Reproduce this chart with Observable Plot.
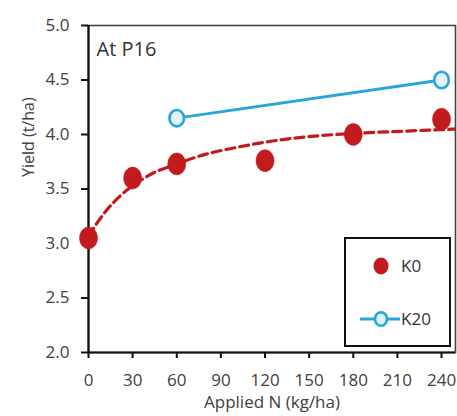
<!DOCTYPE html>
<html>
<head>
<meta charset="utf-8">
<script src="https://cdn.jsdelivr.net/npm/d3@7"></script>
<script src="https://cdn.jsdelivr.net/npm/@observablehq/plot@0.6"></script>
<style>
  body { margin: 0; background: #fff; }
  #wrap { position: relative; width: 457px; height: 416px; overflow: hidden; font-family: "Open Sans", sans-serif; }
  #legend { position: absolute; left: 0; top: 0; pointer-events: none; }
</style>
</head>
<body>
<div id="wrap"></div>
<script>
// ---- data ----
const nRates = [0, 30, 60, 120, 180, 240];
const k0Yield = [3.05, 3.60, 3.73, 3.76, 4.00, 4.14];
const k20Rates = [60, 240];
const k20Yield = [4.15, 4.50];
// fitted curve for K0
const fitRates = [0, 12, 21, 30, 43, 60, 80, 100, 125, 158, 180, 214, 250];
const fitYield = [3.07, 3.30, 3.43, 3.53, 3.64, 3.73, 3.82, 3.88, 3.94, 3.99, 4.01, 4.03, 4.05];
const xTicks = [0, 30, 60, 90, 120, 150, 180, 210, 240];
const yTicks = [2.0, 2.5, 3.0, 3.5, 4.0, 4.5, 5.0];
const panelLabel = "At P16";
const xLabel = "Applied N (kg/ha)";
const yLabel = "Yield (t/ha)";
const seriesNames = ["K0", "K20"];

const red = "#c21a1f";
const blue = "#2aa5dc";
const blueFill = "#e2f1fa";

const k0 = nRates.map((n, i) => ({n, y: k0Yield[i]}));
const k20 = k20Rates.map((n, i) => ({n, y: k20Yield[i]}));
const fit = fitRates.map((n, i) => ({n, y: fitYield[i]}));

// slightly tall ellipse symbol (the reference is stretched vertically)
function ellipseSymbol(ratio) {
  return {
    draw(ctx, size) {
      const r = Math.sqrt(size / Math.PI);
      const rx = r, ry = r * ratio, k = 0.5523;
      ctx.moveTo(rx, 0);
      ctx.bezierCurveTo(rx, ry * k, rx * k, ry, 0, ry);
      ctx.bezierCurveTo(-rx * k, ry, -rx, ry * k, -rx, 0);
      ctx.bezierCurveTo(-rx, -ry * k, -rx * k, -ry, 0, -ry);
      ctx.bezierCurveTo(rx * k, -ry, rx, -ry * k, rx, 0);
      ctx.closePath();
    }
  };
}

const chart = Plot.plot({
  width: 457,
  height: 416,
  marginLeft: 88,
  marginRight: 2,
  marginTop: 25,
  marginBottom: 64,
  style: {fontFamily: "Open Sans, sans-serif", fontSize: "17px", color: "#404040", background: "#fff"},
  x: {domain: [0, 249.5]},
  y: {domain: [2, 5]},
  marks: [
    Plot.frame({stroke: "#444", strokeWidth: 1.6}),
    Plot.axisY(yTicks, {tickSize: 7, tickPadding: 12, tickFormat: d => d.toFixed(1), label: null, stroke: "#111", strokeWidth: 2, fontSize: 17}),
    Plot.axisX(xTicks, {tickSize: 6, tickPadding: 15, label: null, stroke: "#111", strokeWidth: 2, fontSize: 17}),
    Plot.ruleX([0], {stroke: "#111", strokeWidth: 2.2}),
    Plot.ruleY([2], {stroke: "#111", strokeWidth: 2.2}),
    Plot.line(fit, {x: "n", y: "y", curve: "monotone-x", stroke: red, strokeWidth: 3.2, strokeDasharray: "9,5", clip: true}),
    Plot.line(k20, {x: "n", y: "y", stroke: blue, strokeWidth: 2.8}),
    Plot.dot(k20, {x: "n", y: "y", r: 7.3, symbol: ellipseSymbol(1.12), stroke: blue, strokeWidth: 2.6, fill: blueFill}),
    Plot.dot(k0, {x: "n", y: "y", r: 9, symbol: ellipseSymbol(1.22), fill: red, stroke: red, strokeWidth: 0.5}),
    Plot.text([panelLabel], {frameAnchor: "top-left", dx: 8, dy: 24, textAnchor: "start", lineAnchor: "middle", fontSize: 20, fill: "#333"}),
    Plot.text([yLabel], {frameAnchor: "left", dx: -60, dy: -12, rotate: -90, fontSize: 16, fill: "#404040"}),
    Plot.text([xLabel], {frameAnchor: "bottom", dy: 55, fontSize: 17, fill: "#404040"})
  ]
});

const wrap = document.getElementById("wrap");
wrap.appendChild(chart);

// legend box inside the plot area
const ns = "http://www.w3.org/2000/svg";
const leg = document.createElementNS(ns, "svg");
leg.setAttribute("id", "legend");
leg.setAttribute("width", 457);
leg.setAttribute("height", 416);
leg.innerHTML = `
  <rect x="345" y="238" width="105" height="108" fill="#fff" stroke="#111" stroke-width="2"/>
  <ellipse cx="381" cy="266" rx="7.5" ry="8.5" fill="${red}"/>
  <text x="401" y="266" dy="0.35em" font-size="17" fill="#333" font-family="Open Sans, sans-serif">${seriesNames[0]}</text>
  <line x1="360" x2="400" y1="319" y2="319" stroke="${blue}" stroke-width="2.8"/>
  <ellipse cx="381" cy="319" rx="6" ry="6.8" fill="${blueFill}" stroke="${blue}" stroke-width="2.6"/>
  <text x="401" y="319" dy="0.35em" font-size="17" fill="#333" font-family="Open Sans, sans-serif">${seriesNames[1]}</text>
`;
wrap.appendChild(leg);
</script>
</body>
</html>
